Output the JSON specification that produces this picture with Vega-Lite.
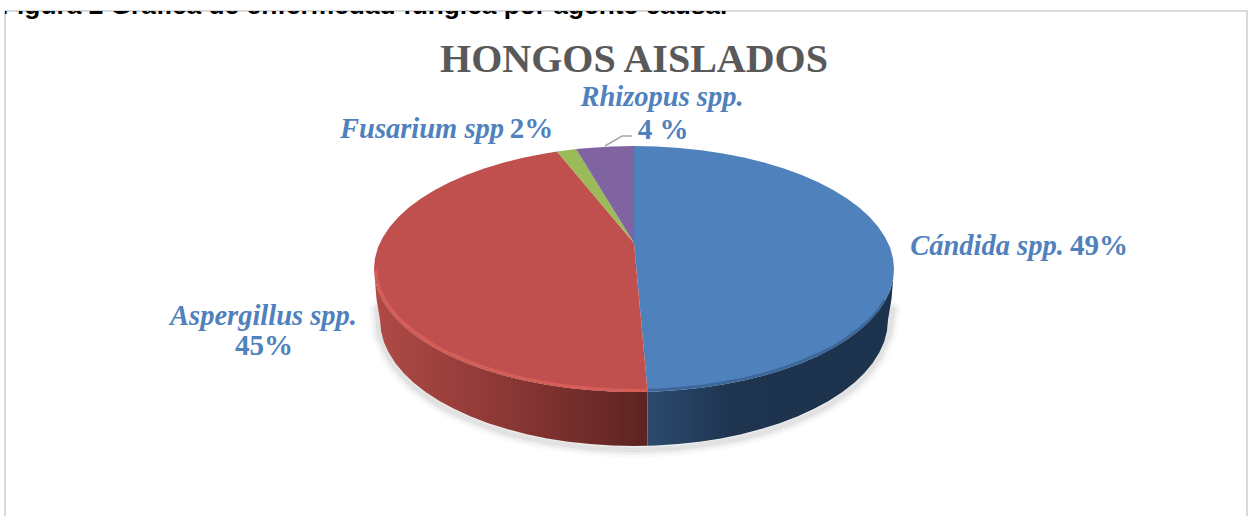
{"$schema":"https://vega.github.io/schema/vega-lite/v6.json","width":1242,"height":510,"autosize":"none","padding":{"left":5,"top":11,"right":5,"bottom":0},"background":"white","view":{"stroke":"#d9d9d9","strokeWidth":2,"fill":"white"},"title":{"text":"HONGOS AISLADOS","anchor":"middle","dx":8,"offset":-101,"baseline":"alphabetic","font":"Liberation Serif","fontSize":40,"fontWeight":"bold","color":"#595959"},"projection":{"type":"identity","reflectY":true,"scale":1,"translate":[629,258]},"datasets":{"slices":[{"type":"Feature","properties":{"name":"Cándida spp.","pct":49},"geometry":{"type":"Polygon","coordinates":[[[0,26],[0,123],[22.7,122.5],[45.1,121.1],[67.3,118.8],[88.9,115.6],[109.9,111.5],[130,106.5],[149.1,100.8],[167.1,94.2],[183.8,87],[199.2,79.1],[213,70.6],[225.2,61.5],[235.6,52],[244.3,42.1],[251.1,31.8],[256.1,21.4],[259,10.7],[260,0],[259,-10.7],[256.1,-21.4],[251.1,-31.8],[244.3,-42.1],[235.6,-52],[225.2,-61.5],[213,-70.6],[199.2,-79.1],[183.8,-87],[167.1,-94.2],[149.1,-100.8],[130,-106.5],[109.9,-111.5],[88.9,-115.6],[67.3,-118.8],[45.1,-121.1],[22.7,-122.5],[13.6,-122.8],[0,26]]]}},{"type":"Feature","properties":{"name":"Aspergillus spp.","pct":45},"geometry":{"type":"Polygon","coordinates":[[[0,26],[13.6,-122.8],[0,-123],[-22.7,-122.5],[-45.1,-121.1],[-67.3,-118.8],[-88.9,-115.6],[-109.9,-111.5],[-130,-106.5],[-149.1,-100.8],[-167.1,-94.2],[-183.8,-87],[-199.2,-79.1],[-213,-70.6],[-225.2,-61.5],[-235.6,-52],[-244.3,-42.1],[-251.1,-31.8],[-256.1,-21.4],[-259,-10.7],[-260,0],[-259,10.7],[-256.1,21.4],[-251.1,31.8],[-244.3,42.1],[-235.6,52],[-225.2,61.5],[-213,70.6],[-199.2,79.1],[-183.8,87],[-167.1,94.2],[-149.1,100.8],[-130,106.5],[-109.9,111.5],[-88.9,115.6],[-77,117.4],[0,26]]]}},{"type":"Feature","properties":{"name":"Fusarium spp","pct":2},"geometry":{"type":"Polygon","coordinates":[[[0,26],[-77,117.4],[-67.3,118.8],[-58,119.9],[0,26]]]}},{"type":"Feature","properties":{"name":"Rhizopus spp.","pct":4},"geometry":{"type":"Polygon","coordinates":[[[0,26],[-58,119.9],[-45.1,121.1],[-22.7,122.5],[0,123],[0,26]]]}}],"redWall":[{"type":"Feature","properties":{"name":"Aspergillus spp."},"geometry":{"type":"Polygon","coordinates":[[[13.6,-122.8],[0,-123],[-22.7,-122.5],[-45.1,-121.1],[-67.3,-118.8],[-88.9,-115.6],[-109.9,-111.5],[-130,-106.5],[-149.1,-100.8],[-167.1,-94.2],[-183.8,-87],[-199.2,-79.1],[-213,-70.6],[-225.2,-61.5],[-235.6,-52],[-244.3,-42.1],[-251.1,-31.8],[-256.1,-21.4],[-259,-10.7],[-260,0],[-259,-12],[-257.5,-30],[-254,-51],[-253,-62],[-250.1,-72.9],[-245.3,-83.6],[-238.7,-94.1],[-230.2,-104.2],[-220,-114],[-208.1,-123.3],[-194.6,-132],[-179.6,-140.1],[-163.3,-147.5],[-145.7,-154.2],[-127,-160.1],[-107.3,-165.2],[-86.9,-169.4],[-65.7,-172.7],[-44.1,-175.1],[-22.1,-176.5],[0,-177],[13.3,-176.8],[13.6,-122.8]]]}}],"blueWall":[{"type":"Feature","properties":{"name":"Cándida spp."},"geometry":{"type":"Polygon","coordinates":[[[13.6,-122.8],[22.7,-122.5],[45.1,-121.1],[67.3,-118.8],[88.9,-115.6],[109.9,-111.5],[130,-106.5],[149.1,-100.8],[167.1,-94.2],[183.8,-87],[199.2,-79.1],[213,-70.6],[225.2,-61.5],[235.6,-52],[244.3,-42.1],[251.1,-31.8],[256.1,-21.4],[259,-10.7],[260,0],[259,-12],[257.5,-30],[254,-51],[253,-62],[250.1,-72.9],[245.3,-83.6],[238.7,-94.1],[230.2,-104.2],[220,-114],[208.1,-123.3],[194.6,-132],[179.6,-140.1],[163.3,-147.5],[145.7,-154.2],[127,-160.1],[107.3,-165.2],[86.9,-169.4],[65.7,-172.7],[44.1,-175.1],[22.1,-176.5],[13.3,-176.8],[13.6,-122.8]]]}}],"shadow":[{"type":"Feature","properties":{"part":"shadow"},"geometry":{"type":"LineString","coordinates":[[-257,-40],[-255,-66],[-250.1,-77],[-245.3,-88],[-238.7,-98],[-230.2,-108],[-220,-118],[-208.1,-127],[-194.6,-136],[-179.6,-144],[-163.3,-151],[-145.7,-158],[-127,-164],[-107.3,-169],[-86.9,-173],[-65.7,-176],[-44.1,-179],[-22.1,-180],[0,-181],[22.1,-180],[44.1,-179],[65.7,-176],[86.9,-173],[107.3,-169],[127,-164],[145.7,-158],[163.3,-151],[179.6,-144],[194.6,-136],[208.1,-127],[220,-118],[230.2,-108],[238.7,-98],[245.3,-88],[250.1,-77],[255,-66],[259,-40]]}}],"redRim":[{"type":"Feature","properties":{"part":"rim"},"geometry":{"type":"LineString","coordinates":[[-258,0],[-257,-10.7],[-254.1,-21],[-249.1,-31],[-242.3,-41],[-233.6,-51],[-223.2,-60],[-211,-69],[-197.2,-78],[-181.8,-85.5],[-165.1,-92.7],[-147.1,-99.3],[-128,-105],[-107.9,-110],[-86.9,-114],[-65.3,-117.3],[-43.1,-119.6],[-20.7,-121],[0,-121.5],[13.6,-121.3]]}}],"blueRim":[{"type":"Feature","properties":{"part":"rim"},"geometry":{"type":"LineString","coordinates":[[13.6,-121.3],[22.7,-121],[45.1,-119.6],[67.3,-117.3],[88.9,-114],[109.9,-110],[130,-105],[149.1,-99.3],[167.1,-92.7],[183.8,-85.5],[199.2,-78],[213,-69],[225.2,-60],[235.6,-51],[244.3,-41],[251.1,-31]]}}],"leader":[{"type":"Feature","properties":{"part":"leader"},"geometry":{"type":"LineString","coordinates":[[-29,123],[-12,133],[-2,133]]}}],"labels":[{"text":"Cándida spp.","lon":353,"lat":23,"kind":"name"},{"text":"49%","lon":465,"lat":23,"kind":"pct"},{"text":"Aspergillus spp.","lon":-370.5,"lat":-47,"kind":"name"},{"text":"45%","lon":-370,"lat":-77,"kind":"pct"},{"text":"Fusarium spp","lon":-212,"lat":140,"kind":"name"},{"text":"2%","lon":-102.5,"lat":140,"kind":"pct"},{"text":"Rhizopus spp.","lon":28,"lat":172,"kind":"name"},{"text":"4 %","lon":29,"lat":139,"kind":"pct"}],"caption":[{"text":"Figura 2 Gráfica de enfermedad fúngica por agente causal","lon":-633,"lat":263}]},"layer":[{"data":{"name":"shadow"},"mark":{"type":"geoshape","filled":false,"stroke":"#000000","strokeWidth":16,"strokeOpacity":0.025,"strokeCap":"round"}},{"data":{"name":"shadow"},"mark":{"type":"geoshape","filled":false,"stroke":"#000000","strokeWidth":10,"strokeOpacity":0.04,"strokeCap":"round"}},{"data":{"name":"shadow"},"mark":{"type":"geoshape","filled":false,"stroke":"#000000","strokeWidth":5,"strokeOpacity":0.05,"strokeCap":"round"}},{"data":{"name":"redWall"},"mark":{"type":"geoshape","stroke":null,"fill":{"gradient":"linear","x1":0,"y1":0,"x2":1,"y2":0,"stops":[{"offset":0,"color":"#b04a46"},{"offset":0.5,"color":"#8a3735"},{"offset":1,"color":"#5c2321"}]}}},{"data":{"name":"blueWall"},"mark":{"type":"geoshape","stroke":null,"fill":{"gradient":"linear","x1":0,"y1":0,"x2":1,"y2":0,"stops":[{"offset":0,"color":"#2b4b70"},{"offset":0.35,"color":"#1e344f"},{"offset":1,"color":"#1d324c"}]}}},{"data":{"name":"slices"},"mark":{"type":"geoshape","stroke":null},"encoding":{"color":{"field":"properties.name","type":"nominal","legend":null,"scale":{"domain":["Cándida spp.","Aspergillus spp.","Fusarium spp","Rhizopus spp."],"range":["#4f81bd","#c0504d","#9bbb59","#8064a2"]}}}},{"data":{"name":"redRim"},"mark":{"type":"geoshape","filled":false,"stroke":"#d75d58","strokeWidth":3}},{"data":{"name":"blueRim"},"mark":{"type":"geoshape","filled":false,"stroke":"#2c4d74","strokeWidth":3,"strokeOpacity":0.5}},{"data":{"name":"leader"},"mark":{"type":"geoshape","filled":false,"stroke":"#a6a6a6","strokeWidth":1.5}},{"data":{"name":"labels"},"transform":[{"filter":"datum.kind == 'name'"}],"mark":{"type":"text","font":"Liberation Serif","fontSize":28.5,"fontWeight":"bold","fontStyle":"italic","color":"#4f81bd","align":"center","baseline":"middle"},"encoding":{"longitude":{"field":"lon","type":"quantitative"},"latitude":{"field":"lat","type":"quantitative"},"text":{"field":"text"}}},{"data":{"name":"labels"},"transform":[{"filter":"datum.kind == 'pct'"}],"mark":{"type":"text","font":"Liberation Serif","fontSize":29,"fontWeight":"bold","color":"#4f81bd","align":"center","baseline":"middle"},"encoding":{"longitude":{"field":"lon","type":"quantitative"},"latitude":{"field":"lat","type":"quantitative"},"text":{"field":"text"}}},{"data":{"name":"caption"},"mark":{"type":"text","font":"Liberation Sans","fontSize":26.3,"fontWeight":"bold","color":"#000000","align":"left","baseline":"middle"},"encoding":{"longitude":{"field":"lon","type":"quantitative"},"latitude":{"field":"lat","type":"quantitative"},"text":{"field":"text"}}}]}
